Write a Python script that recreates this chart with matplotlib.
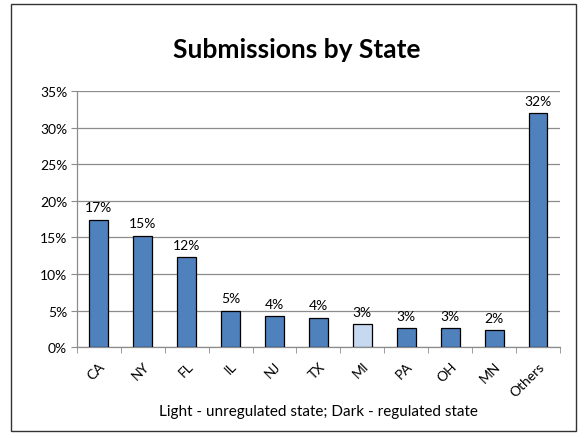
import matplotlib.pyplot as plt
import matplotlib.patches as patches
import numpy as np

plt.rcParams['font.family'] = ['Lato', 'DejaVu Sans']

states = ["CA", "NY", "FL", "IL", "NJ", "TX", "MI", "PA", "OH", "MN", "Others"]
shares = [17.4, 15.2, 12.3, 5.0, 4.2, 4.0, 3.1, 2.6, 2.6, 2.3, 32.0]
regulated = [True, True, True, True, True, True, False, True, True, True, True]

DARK = "#4F81BD"
LIGHT = "#C6D9F1"
GRID = "#8C8C8C"

fig = plt.figure(figsize=(5.87, 4.39), dpi=100)
ax = fig.add_axes([0.131, 0.207, 0.823, 0.583])

x = np.arange(len(states))
colors = [DARK if r else LIGHT for r in regulated]
bars = ax.bar(x, shares, width=0.43, color=colors, edgecolor="black", linewidth=0.9, zorder=3)

for b, v in zip(bars, shares):
    ax.text(b.get_x() + b.get_width() / 2, v + 0.9, "{:.0f}%".format(v),
            ha="center", va="bottom", fontsize=10)

ax.set_xlim(-0.5, len(states) - 0.5)
ax.set_ylim(0, 35)
ax.set_yticks(np.arange(0, 36, 5))
ax.set_yticklabels(["{}%".format(t) for t in range(0, 36, 5)], fontsize=10)
ax.yaxis.grid(True, color=GRID, linewidth=0.9, zorder=0)

ax.set_xticks(x)
ax.set_xticklabels(states, rotation=45, ha="right", rotation_mode="anchor", fontsize=10)
ax.set_xticks(np.arange(-0.5, len(states), 1), minor=True)
ax.tick_params(axis="x", which="major", length=0, pad=9)
ax.tick_params(axis="x", which="minor", length=4, color=GRID, direction="out")
ax.tick_params(axis="y", length=4, color=GRID, direction="out", pad=3)

for side in ["top", "right"]:
    ax.spines[side].set_visible(False)
for side in ["left", "bottom"]:
    ax.spines[side].set_color(GRID)
    ax.spines[side].set_linewidth(0.9)

ax.set_xlabel("Light - unregulated state; Dark - regulated state", fontsize=11, labelpad=4)
fig.text(0.505, 0.885, "Submissions by State", ha="center", va="center",
         fontsize=19, fontweight="bold")

# chart frame
fig.patches.append(patches.Rectangle((11 / 587, 1 - 432 / 439), 565 / 587, 427 / 439,
                                     transform=fig.transFigure, fill=False,
                                     edgecolor="#333333", linewidth=1.0))

fig.savefig("out.png", dpi=100)
